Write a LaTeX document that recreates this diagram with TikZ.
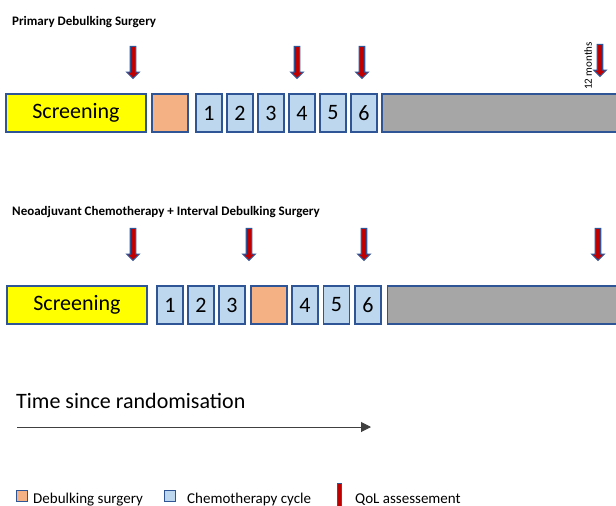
\documentclass[tikz,border=0pt]{standalone}
\usepackage{fontspec}
\setmainfont{Carlito}
\usetikzlibrary{positioning,shapes.arrows,arrows.meta}

\definecolor{boxline}{HTML}{2F5597}
\definecolor{screenfill}{HTML}{FFFF00}
\definecolor{surgfill}{HTML}{F4B183}
\definecolor{chemofill}{HTML}{BDD7EE}
\definecolor{restfill}{HTML}{A6A6A6}
\definecolor{qolfill}{HTML}{C00000}

\tikzset{
  phase/.style={draw=boxline, line width=1.5pt, outer sep=0pt, inner sep=0pt, minimum height=38pt},
  screen/.style={phase, fill=screenfill, minimum width=140pt, font=\fontsize{22}{24}\selectfont},
  surgery/.style={phase, fill=surgfill, minimum width=36pt},
  cycle/.style={phase, fill=chemofill, minimum width=26pt, font=\fontsize{22}{24}\selectfont},
  rest/.style={phase, fill=restfill, minimum width=240pt},
  qol/.style={single arrow, draw=boxline, fill=qolfill, line width=1.1pt, inner sep=2.2pt,
    single arrow head extend=3.5pt, minimum height=32pt, rotate=-90},
  armtitle/.style={anchor=base west, inner sep=0pt, font=\fontsize{13}{15}\selectfont\bfseries},
  legbox/.style={draw=boxline, line width=1pt, minimum size=11pt, inner sep=0pt},
  legtext/.style={anchor=base west, inner sep=0pt, font=\fontsize{15}{17}\selectfont}
}

\begin{document}
\begin{tikzpicture}[x=1pt, y=-1pt]
      \useasboundingbox (0,0) rectangle (616,506);
      % primary debulking surgery
      \node[armtitle] (titleA) at (12,25) {Primary Debulking Surgery};
      \node[screen, anchor=west] (screenA) at (6,113) {Screening};
      \node[surgery, right=6pt of screenA] (surgA) {};
      \node[cycle, right=8pt of surgA] (cycA1) {1};
      \node[cycle, right=5pt of cycA1] (cycA2) {2};
      \node[cycle, right=5pt of cycA2] (cycA3) {3};
      \node[cycle, right=5pt of cycA3] (cycA4) {4};
      \node[cycle, right=5pt of cycA4] (cycA5) {5};
      \node[cycle, right=5pt of cycA5] (cycA6) {6};
      \node[rest, right=5pt of cycA6] (restA) {};
      \node[qol] (qolA1) at (133,61) {};
      \node[qol] (qolA2) at (297,61) {};
      \node[qol] (qolA3) at (362,61) {};
      \node[qol] (qolA4) at (600,59) {};
      \node[rotate=90, inner sep=0pt, font=\fontsize{11}{13}\selectfont] (months) at (588,66) {12 months};

      % neoadjuvant chemotherapy + interval debulking surgery
      \node[armtitle] (titleB) at (12,215) {Neoadjuvant Chemotherapy + Interval Debulking Surgery};
      \node[screen, anchor=west] (screenB) at (7,305) {Screening};
      \node[cycle, right=10pt of screenB] (cycB1) {1};
      \node[cycle, right=5pt of cycB1] (cycB2) {2};
      \node[cycle, right=5pt of cycB2] (cycB3) {3};
      \node[surgery, right=6pt of cycB3] (surgB) {};
      \node[cycle, right=5pt of surgB] (cycB4) {4};
      \node[cycle, right=5.5pt of cycB4] (cycB5) {5};
      \node[cycle, right=5.5pt of cycB5] (cycB6) {6};
      \node[rest, right=6.5pt of cycB6] (restB) {};
      \node[qol] (qolB1) at (133,243) {};
      \node[qol] (qolB2) at (249,243) {};
      \node[qol] (qolB3) at (364,243) {};
      \node[qol] (qolB4) at (598,243) {};

      % time axis
      \node[anchor=base west, inner sep=0pt, font=\fontsize{22}{24}\selectfont] (timelabel) at (16,408) {Time since randomisation};
      \coordinate (tstart) at (17,427);
      \coordinate (tend) at (371,427);
      \draw[-{Triangle[length=10pt,width=10pt]}, draw=black!75, line width=1pt] (tstart) -- (tend);

      % legend
      \node[legbox, fill=surgfill] (legsurg) at (21.5,496) {};
      \node[legtext] (legsurgtext) at (33,503) {Debulking surgery};
      \node[legbox, fill=chemofill] (legchemo) at (169.5,496) {};
      \node[legtext] (legchemotext) at (187,503) {Chemotherapy cycle};
      \node[draw=boxline, fill=qolfill, line width=0.8pt, minimum width=4pt, minimum height=30pt, inner sep=0pt, anchor=north] (legqol) at (339,483) {};
      \node[legtext] (legqoltext) at (355,503) {QoL assessement};
    \end{tikzpicture}
\end{document}
